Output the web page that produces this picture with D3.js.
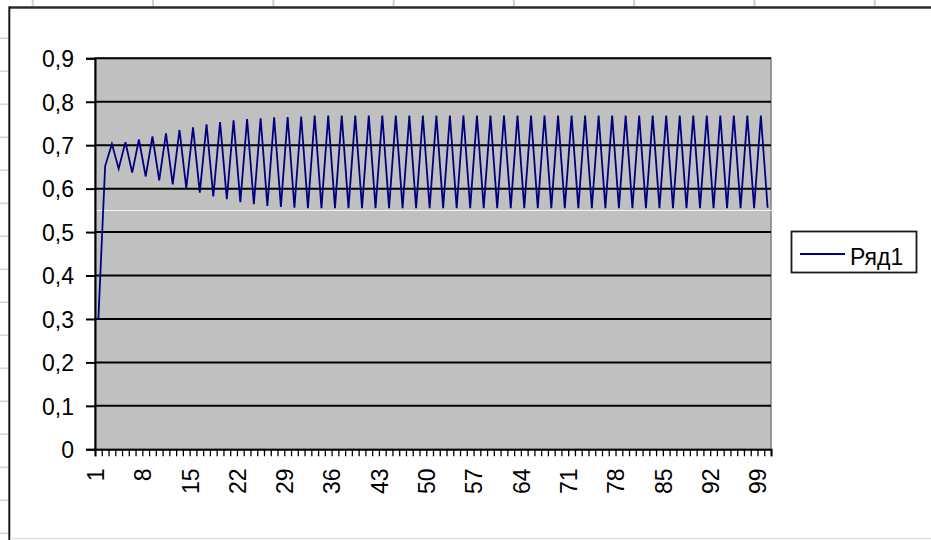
<!DOCTYPE html>
<html>
<head>
<meta charset="utf-8">
<script src="https://cdn.jsdelivr.net/npm/d3@7"></script>
<style>
  html, body { margin: 0; padding: 0; background: #fff; }
  svg { display: block; }
  text { font-family: "Liberation Sans", Arial, sans-serif; fill: #000; }
</style>
</head>
<body>
<div id="chart"></div>
<script>
// Ряд1 — 100 значений
const categories = d3.range(1, 101);
const seriesName = "Ряд1";
const values = [
  0.300, 0.652, 0.703, 0.646, 0.707, 0.637, 0.713, 0.628, 0.720, 0.619,
  0.727, 0.610, 0.735, 0.601, 0.741, 0.591, 0.748, 0.582, 0.753, 0.576,
  0.757, 0.569, 0.760, 0.564, 0.762, 0.560, 0.764, 0.558, 0.765, 0.556,
  0.766, 0.555, 0.768, 0.555, 0.768, 0.555, 0.768, 0.555, 0.768, 0.555,
  0.768, 0.555, 0.768, 0.555, 0.768, 0.555, 0.768, 0.555, 0.768, 0.555,
  0.768, 0.555, 0.768, 0.555, 0.768, 0.555, 0.768, 0.555, 0.768, 0.555,
  0.768, 0.555, 0.768, 0.555, 0.768, 0.555, 0.768, 0.555, 0.768, 0.555,
  0.768, 0.555, 0.768, 0.555, 0.768, 0.555, 0.768, 0.555, 0.768, 0.555,
  0.768, 0.555, 0.768, 0.555, 0.768, 0.555, 0.768, 0.555, 0.768, 0.555,
  0.768, 0.555, 0.768, 0.555, 0.768, 0.555, 0.768, 0.555, 0.768, 0.556
];
const yTicks = [0, 0.1, 0.2, 0.3, 0.4, 0.5, 0.6, 0.7, 0.8, 0.9];
const xLabels = [1, 8, 15, 22, 29, 36, 43, 50, 57, 64, 71, 78, 85, 92, 99];

const W = 931, H = 540;
const plot = { left: 95, right: 771, top: 58.3, bottom: 449.3 };
const LINE_COLOR = "#000080";
const PLOT_BG = "#c0c0c0";

const svg = d3.select("#chart").append("svg")
    .attr("width", W)
    .attr("height", H);

// фон листа Excel: сетка ячеек по краям
svg.append("g").selectAll("line")
    .data(d3.range(0, 16))
    .enter().append("line")
    .attr("x1", 0).attr("x2", 8)
    .attr("y1", d => 38.3 + d * 33).attr("y2", d => 38.3 + d * 33)
    .attr("stroke", "#d4d4d4").attr("stroke-width", 1.5);
svg.append("g").selectAll("line")
    .data(d3.range(0, 8))
    .enter().append("line")
    .attr("x1", d => 32.7 + d * 120.3).attr("x2", d => 32.7 + d * 120.3)
    .attr("y1", 0).attr("y2", 6)
    .attr("stroke", "#cfcfcf").attr("stroke-width", 2);

// рамка диаграммы
svg.append("line").attr("x1", 9).attr("x2", W).attr("y1", 7.5).attr("y2", 7.5)
    .attr("stroke", "#2a2a2a").attr("stroke-width", 2.5);
svg.append("line").attr("x1", 9.3).attr("x2", 9.3).attr("y1", 6.5).attr("y2", H)
    .attr("stroke", "#1a1a1a").attr("stroke-width", 2);
svg.append("line").attr("x1", 10).attr("x2", W).attr("y1", 538.5).attr("y2", 538.5)
    .attr("stroke", "#e2e2e2").attr("stroke-width", 1.5);

// шкалы
const x = d3.scaleBand().domain(categories).range([plot.left, plot.right]).padding(0);
const xEdge = d3.scaleLinear().domain([0, categories.length]).range([plot.left, plot.right]);
const y = d3.scaleLinear().domain([0, 0.9]).range([plot.bottom, plot.top]);
const cx = c => x(c) + x.bandwidth() / 2;

// область построения
svg.append("rect")
    .attr("x", plot.left).attr("y", plot.top)
    .attr("width", plot.right - plot.left).attr("height", plot.bottom - plot.top)
    .attr("fill", PLOT_BG)
    .attr("stroke", "#808080").attr("stroke-width", 1.5);

// линии сетки
svg.append("g").selectAll("line")
    .data(yTicks.filter(d => d > 0))
    .enter().append("line")
    .attr("x1", plot.left).attr("x2", plot.right)
    .attr("y1", d => y(d)).attr("y2", d => y(d))
    .attr("stroke", "#000").attr("stroke-width", 2);

// артефакт скриншота — светлая полоса
svg.append("line").attr("x1", 93).attr("x2", 775).attr("y1", 210.5).attr("y2", 210.5)
    .attr("stroke", "#f4f4f4").attr("stroke-width", 1);

// ряд
const line = d3.line()
    .x((d, i) => cx(categories[i]))
    .y(d => y(d));
svg.append("path")
    .datum(values)
    .attr("d", line)
    .attr("fill", "none")
    .attr("stroke", LINE_COLOR)
    .attr("stroke-width", 1.8)
    .attr("stroke-linejoin", "miter");

// ось Y
const yAxis = svg.append("g")
    .attr("transform", `translate(${plot.left},0)`)
    .call(d3.axisLeft(y).tickValues(yTicks).tickSize(9).tickPadding(12)
        .tickFormat(d => d3.format(".1~f")(d).replace(".", ",")));
yAxis.select(".domain").attr("stroke", "#000").attr("stroke-width", 2);
yAxis.selectAll(".tick line").attr("stroke", "#000").attr("stroke-width", 2);
yAxis.selectAll(".tick text")
    .attr("font-size", 23)
    .attr("font-family", "Liberation Sans, Arial, sans-serif")
    .attr("fill", "#000")
    .attr("dy", "0.36em");

// ось X: засечки на границах категорий
const xAxis = svg.append("g")
    .attr("transform", `translate(0,${plot.bottom})`)
    .call(d3.axisBottom(xEdge).tickValues(d3.range(0, categories.length + 1))
        .tickSize(7).tickFormat(""));
xAxis.select(".domain").attr("stroke", "#000").attr("stroke-width", 2);
xAxis.selectAll(".tick line").attr("stroke", "#000").attr("stroke-width", 1.3);

// подписи X (повернутые)
svg.append("g").selectAll("text")
    .data(xLabels)
    .enter().append("text")
    .attr("transform", d => `translate(${cx(d) + 5.5},468.5) rotate(-90)`)
    .attr("text-anchor", "end")
    .attr("font-size", 23)
    .text(d => d);

// легенда
const legend = svg.append("g");
legend.append("rect")
    .attr("x", 791.5).attr("y", 231.5).attr("width", 125).attr("height", 41)
    .attr("fill", "#fff").attr("stroke", "#1a1a1a").attr("stroke-width", 1.8);
legend.append("line")
    .attr("x1", 800).attr("x2", 845).attr("y1", 254).attr("y2", 254)
    .attr("stroke", LINE_COLOR).attr("stroke-width", 1.8);
legend.append("text")
    .attr("x", 850).attr("y", 265)
    .attr("font-size", 23)
    .text(seriesName);
</script>
</body>
</html>
